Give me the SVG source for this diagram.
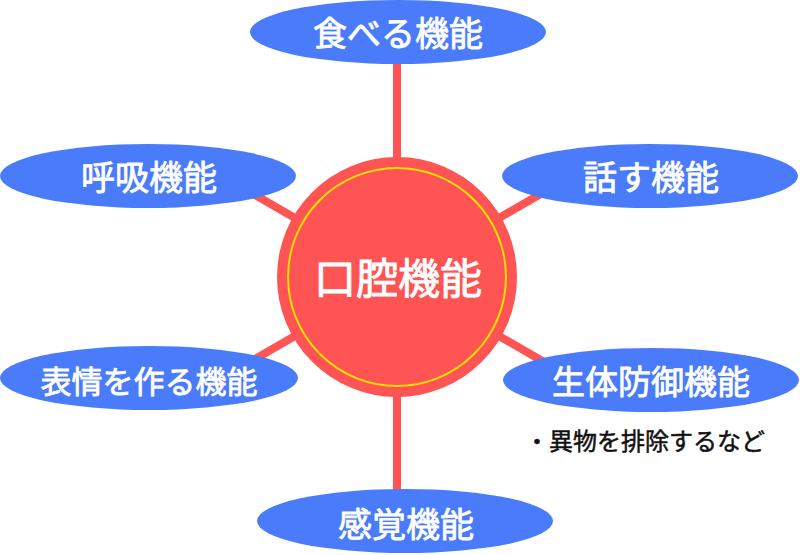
<svg xmlns="http://www.w3.org/2000/svg" width="800" height="555" viewBox="0 0 800 555">
  <style>
    .conn { stroke: #FF5454; stroke-width: 8; stroke-linecap: butt; fill: none; }
    .node { fill: #4A7BFA; }
    .lbl { fill: #FFFFFF; stroke: #FFFFFF; stroke-width: 0.8; font-family: "Noto Sans CJK JP", "Noto Sans", sans-serif; font-size: 34px; text-anchor: middle; }
    .hub { fill: #FF5454; }
    .ring { fill: none; stroke: #FFE000; stroke-width: 2; }
    .hublbl { fill: #FFFFFF; stroke: #FFFFFF; stroke-width: 0.9; font-family: "Noto Sans CJK JP", "Noto Sans", sans-serif; font-size: 42px; text-anchor: middle; }
    .note { fill: #111111; stroke: #111111; stroke-width: 0.5; font-family: "Noto Sans CJK JP", "Noto Sans", sans-serif; font-size: 24px; }
  </style>
  <rect width="800" height="555" fill="#FFFFFF"/>
  <g id="connectors">
    <line class="conn" x1="397" y1="277" x2="397" y2="50"/>
    <line class="conn" x1="397" y1="277" x2="397" y2="505"/>
    <line class="conn" x1="397" y1="277" x2="224" y2="177"/>
    <line class="conn" x1="397" y1="277" x2="570" y2="177"/>
    <line class="conn" x1="397" y1="277" x2="224" y2="377"/>
    <line class="conn" x1="397" y1="277" x2="570" y2="377"/>
  </g>
  <g id="hub">
    <circle class="hub" cx="397" cy="277" r="120"/>
    <circle class="ring" cx="397" cy="277" r="109"/>
    <text class="hublbl" x="398" y="294">口腔機能</text>
  </g>
  <g id="node-eat">
    <ellipse class="node" cx="398" cy="32" rx="148" ry="32"/>
    <text class="lbl" x="398" y="46">食べる機能</text>
  </g>
  <g id="node-breath">
    <ellipse class="node" cx="148" cy="176" rx="148" ry="32"/>
    <text class="lbl" x="149" y="190">呼吸機能</text>
  </g>
  <g id="node-speak">
    <ellipse class="node" cx="650" cy="176" rx="148" ry="32"/>
    <text class="lbl" x="651" y="190">話す機能</text>
  </g>
  <g id="node-face">
    <ellipse class="node" cx="149" cy="378" rx="149" ry="32"/>
    <text class="lbl" x="149" y="393" style="font-size:31px">表情を作る機能</text>
  </g>
  <g id="node-defense">
    <ellipse class="node" cx="651" cy="380" rx="148" ry="32"/>
    <text class="lbl" x="651" y="394" style="font-size:33px">生体防御機能</text>
    <text class="note" x="525" y="450">・異物を排除するなど</text>
  </g>
  <g id="node-sense">
    <ellipse class="node" cx="405" cy="521" rx="148" ry="32"/>
    <text class="lbl" x="406" y="537">感覚機能</text>
  </g>
</svg>
